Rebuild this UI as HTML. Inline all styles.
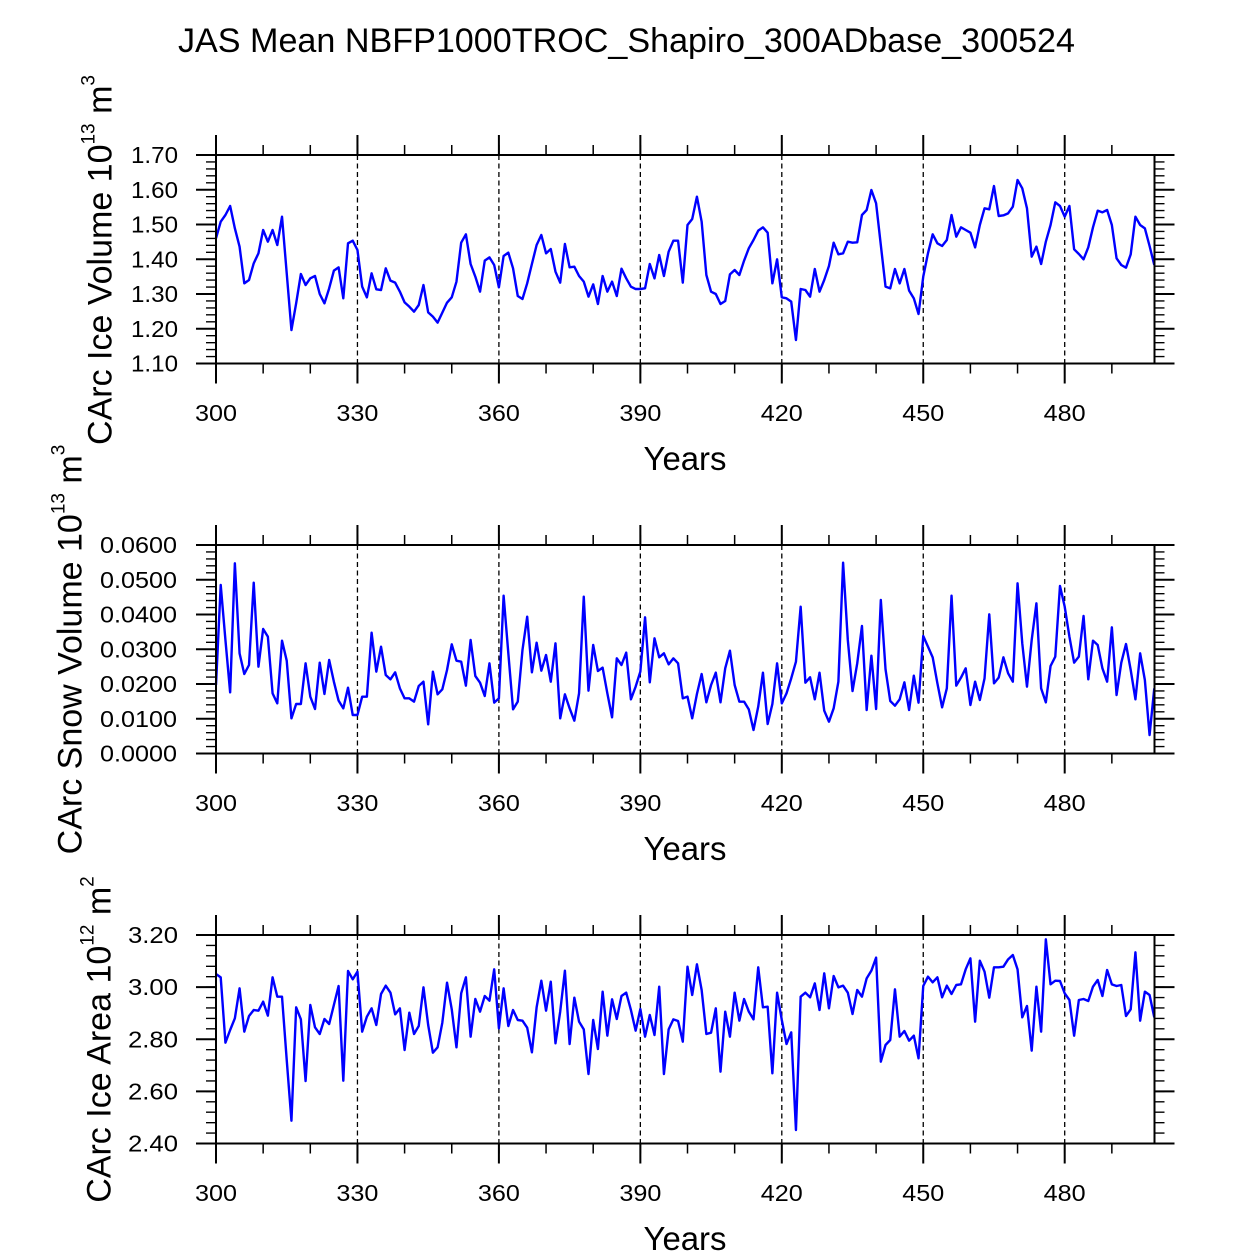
<!DOCTYPE html>
<html>
<head>
<meta charset="utf-8">
<style>
html,body{margin:0;padding:0;background:#fff;}
svg{display:block;}
text{font-family:"Liberation Sans","DejaVu Sans",sans-serif;fill:#000;}
</style>
</head>
<body>
<svg width="1254" height="1254" viewBox="0 0 1254 1254" xmlns="http://www.w3.org/2000/svg">
<rect x="0" y="0" width="1254" height="1254" fill="#fff"/>

<!-- Title -->
<text x="626.5" y="52" font-size="34" text-anchor="middle" textLength="897" lengthAdjust="spacingAndGlyphs">JAS Mean NBFP1000TROC_Shapiro_300ADbase_300524</text>

<defs>
  <g id="xticks">
    <line x1="215.25" y1="150" x2="1156" y2="150" stroke="#000" stroke-width="10" stroke-dasharray="1.5 45.65"/>
    <line x1="215" y1="145" x2="1156" y2="145" stroke="#000" stroke-width="20" stroke-dasharray="2 139.45"/>
    <line x1="215.25" y1="368.5" x2="1156" y2="368.5" stroke="#000" stroke-width="10" stroke-dasharray="1.5 45.65"/>
    <line x1="215" y1="373.5" x2="1156" y2="373.5" stroke="#000" stroke-width="20" stroke-dasharray="2 139.45"/>
    <g stroke="#000" stroke-width="1.3" stroke-dasharray="5 3.5">
      <line x1="357.45" y1="155" x2="357.45" y2="363.5"/>
      <line x1="498.9" y1="155" x2="498.9" y2="363.5"/>
      <line x1="640.35" y1="155" x2="640.35" y2="363.5"/>
      <line x1="781.8" y1="155" x2="781.8" y2="363.5"/>
      <line x1="923.25" y1="155" x2="923.25" y2="363.5"/>
      <line x1="1064.7" y1="155" x2="1064.7" y2="363.5"/>
    </g>
    <g font-size="23" text-anchor="middle">
      <text x="216" y="421" textLength="42" lengthAdjust="spacingAndGlyphs">300</text>
      <text x="357.45" y="421" textLength="42" lengthAdjust="spacingAndGlyphs">330</text>
      <text x="498.9" y="421" textLength="42" lengthAdjust="spacingAndGlyphs">360</text>
      <text x="640.35" y="421" textLength="42" lengthAdjust="spacingAndGlyphs">390</text>
      <text x="781.8" y="421" textLength="42" lengthAdjust="spacingAndGlyphs">420</text>
      <text x="923.25" y="421" textLength="42" lengthAdjust="spacingAndGlyphs">450</text>
      <text x="1064.7" y="421" textLength="42" lengthAdjust="spacingAndGlyphs">480</text>
    </g>
    <text x="685" y="470" font-size="33" text-anchor="middle" textLength="83" lengthAdjust="spacingAndGlyphs">Years</text>
  </g>
</defs>

<!-- ================= PANEL 1 ================= -->
<use href="#xticks"/>
<line x1="211" y1="154.3" x2="211" y2="364.5" stroke="#000" stroke-width="10" stroke-dasharray="1.4 5.55"/>
<line x1="206" y1="154" x2="206" y2="365" stroke="#000" stroke-width="20" stroke-dasharray="2 32.75"/>
<line x1="1159.5" y1="154.3" x2="1159.5" y2="364.5" stroke="#000" stroke-width="10" stroke-dasharray="1.4 5.55"/>
<line x1="1164.5" y1="154" x2="1164.5" y2="365" stroke="#000" stroke-width="20" stroke-dasharray="2 32.75"/>
<g font-size="23" text-anchor="end">
  <text x="178" y="163" textLength="47" lengthAdjust="spacingAndGlyphs">1.70</text>
  <text x="178" y="197.75" textLength="47" lengthAdjust="spacingAndGlyphs">1.60</text>
  <text x="178" y="232.5" textLength="47" lengthAdjust="spacingAndGlyphs">1.50</text>
  <text x="178" y="267.25" textLength="47" lengthAdjust="spacingAndGlyphs">1.40</text>
  <text x="178" y="302" textLength="47" lengthAdjust="spacingAndGlyphs">1.30</text>
  <text x="178" y="336.75" textLength="47" lengthAdjust="spacingAndGlyphs">1.20</text>
  <text x="178" y="371.5" textLength="47" lengthAdjust="spacingAndGlyphs">1.10</text>
</g>
<text transform="translate(111.5,260) rotate(-90)" font-size="34" text-anchor="middle">CArc Ice Volume 10<tspan font-size="19" dy="-17">13</tspan><tspan dy="17"> m</tspan><tspan font-size="19" dy="-17">3</tspan></text>
<polyline fill="none" stroke="#0000ff" stroke-width="2.4" stroke-linejoin="round" vector-effect="non-scaling-stroke" transform="translate(216,140) scale(4.715,0.333333)" points="0,295 1,245 2,225 3,198 4,265 5,320 6,430 7,420 8,370 9,340 10,270 11,305 12,270 13,315 14,230 15,400 16,570 17,490 18,402 19,435 20,415 21,408 22,462 23,490 24,445 25,392 26,382 27,475 28,310 29,302 30,330 31,440 32,472 33,400 34,448 35,450 36,385 37,422 38,428 39,455 40,487 41,500 42,515 43,495 44,435 45,517 46,530 47,548 48,518 49,488 50,472 51,425 52,308 53,283 54,372 55,410 56,455 57,362 58,352 59,375 60,442 61,348 62,338 63,385 64,468 65,477 66,430 67,372 68,315 69,285 70,340 71,327 72,395 73,428 74,312 75,382 76,380 77,408 78,425 79,470 80,433 81,492 82,408 83,455 84,425 85,468 86,386 87,415 88,440 89,447 90,447 91,445 92,372 93,415 94,345 95,408 96,335 97,302 98,302 99,428 100,255 101,237 102,170 103,245 104,405 105,455 106,462 107,492 108,483 109,403 110,390 111,405 112,362 113,325 114,300 115,272 116,262 117,278 118,430 119,358 120,472 121,475 122,485 123,600 124,447 125,450 126,470 127,387 128,455 129,420 130,378 131,308 132,343 133,340 134,305 135,308 136,307 137,225 138,210 139,150 140,190 141,315 142,440 143,445 144,387 145,430 146,387 147,452 148,475 149,522 150,410 151,340 152,283 153,310 154,318 155,300 156,225 157,290 158,262 159,270 160,278 161,322 162,255 163,205 164,208 165,138 166,228 167,226 168,220 169,200 170,120 171,145 172,205 173,350 174,320 175,372 176,305 177,255 178,187 179,198 180,230 181,198 182,328 183,342 184,358 185,322 186,262 187,212 188,217 189,210 190,255 191,355 192,375 193,383 194,343 195,230 196,255 197,265 198,318 199,375"/>
<rect x="216" y="155" width="938.5" height="208.5" fill="none" stroke="#000" stroke-width="2"/>

<!-- ================= PANEL 2 ================= -->
<g transform="translate(0,390)">
<use href="#xticks"/>
<line x1="211" y1="154.3" x2="211" y2="364.5" stroke="#000" stroke-width="10" stroke-dasharray="1.4 5.55"/>
<line x1="206" y1="154" x2="206" y2="365" stroke="#000" stroke-width="20" stroke-dasharray="2 32.75"/>
<line x1="1159.5" y1="154.3" x2="1159.5" y2="364.5" stroke="#000" stroke-width="10" stroke-dasharray="1.4 5.55"/>
<line x1="1164.5" y1="154" x2="1164.5" y2="365" stroke="#000" stroke-width="20" stroke-dasharray="2 32.75"/>
<g font-size="23" text-anchor="end">
  <text x="177" y="163" textLength="77" lengthAdjust="spacingAndGlyphs">0.0600</text>
  <text x="177" y="197.75" textLength="77" lengthAdjust="spacingAndGlyphs">0.0500</text>
  <text x="177" y="232.5" textLength="77" lengthAdjust="spacingAndGlyphs">0.0400</text>
  <text x="177" y="267.25" textLength="77" lengthAdjust="spacingAndGlyphs">0.0300</text>
  <text x="177" y="302" textLength="77" lengthAdjust="spacingAndGlyphs">0.0200</text>
  <text x="177" y="336.75" textLength="77" lengthAdjust="spacingAndGlyphs">0.0100</text>
  <text x="177" y="371.5" textLength="77" lengthAdjust="spacingAndGlyphs">0.0000</text>
</g>
<text transform="translate(81.5,259.5) rotate(-90)" font-size="34" text-anchor="middle">CArc Snow Volume 10<tspan font-size="19" dy="-17">13</tspan><tspan dy="17"> m</tspan><tspan font-size="19" dy="-17">3</tspan></text>
</g>
<polyline fill="none" stroke="#0000ff" stroke-width="2.4" stroke-linejoin="round" vector-effect="non-scaling-stroke" transform="translate(216,530) scale(4.715,0.333333)" points="0,465 1,165 2,330 3,487 4,100 5,370 6,432 7,405 8,158 9,410 10,297 11,320 12,490 13,520 14,332 15,392 16,565 17,522 18,522 19,400 20,500 21,537 22,398 23,492 24,390 25,455 26,512 27,535 28,473 29,555 30,555 31,500 32,500 33,308 34,425 35,350 36,435 37,448 38,427 39,475 40,505 41,505 42,515 43,468 44,455 45,583 46,425 47,493 48,478 49,420 50,343 51,392 52,395 53,467 54,330 55,438 56,458 57,498 58,400 59,518 60,505 61,197 62,370 63,538 64,515 65,360 66,260 67,427 68,338 69,422 70,375 71,455 72,340 73,565 74,493 75,535 76,572 77,490 78,200 79,482 80,345 81,423 82,413 83,490 84,562 85,385 86,405 87,368 88,508 89,470 90,425 91,262 92,457 93,325 94,382 95,370 96,403 97,385 98,400 99,505 100,500 101,565 102,492 103,432 104,517 105,465 106,428 107,517 108,415 109,362 110,465 111,515 112,515 113,538 114,600 115,530 116,428 117,582 118,522 119,400 120,520 121,490 122,445 123,395 124,230 125,458 126,442 127,508 128,428 129,542 130,575 131,535 132,455 133,98 134,330 135,483 136,400 137,288 138,540 139,377 140,537 141,210 142,418 143,513 144,527 145,508 146,457 147,540 148,437 149,518 150,318 151,350 152,382 153,460 154,532 155,475 156,197 157,467 158,443 159,415 160,525 161,455 162,510 163,445 164,253 165,460 166,443 167,382 168,430 169,455 170,160 171,340 172,470 173,330 174,220 175,475 176,517 177,408 178,380 179,168 180,230 181,320 182,398 183,380 184,258 185,448 186,332 187,345 188,415 189,455 190,292 191,495 192,398 193,342 194,420 195,508 196,370 197,450 198,615 199,475"/>
<rect x="216" y="545" width="938.5" height="208.5" fill="none" stroke="#000" stroke-width="2"/>

<!-- ================= PANEL 3 ================= -->
<g transform="translate(0,780)">
<use href="#xticks"/>
<line x1="211" y1="154.3" x2="211" y2="364.5" stroke="#000" stroke-width="10" stroke-dasharray="1.4 9.025"/>
<line x1="206" y1="154" x2="206" y2="365" stroke="#000" stroke-width="20" stroke-dasharray="2 50.125"/>
<line x1="1159.5" y1="154.3" x2="1159.5" y2="364.5" stroke="#000" stroke-width="10" stroke-dasharray="1.4 9.025"/>
<line x1="1164.5" y1="154" x2="1164.5" y2="365" stroke="#000" stroke-width="20" stroke-dasharray="2 50.125"/>
<g font-size="23" text-anchor="end">
  <text x="178" y="163" textLength="50" lengthAdjust="spacingAndGlyphs">3.20</text>
  <text x="178" y="215.125" textLength="50" lengthAdjust="spacingAndGlyphs">3.00</text>
  <text x="178" y="267.25" textLength="50" lengthAdjust="spacingAndGlyphs">2.80</text>
  <text x="178" y="319.375" textLength="50" lengthAdjust="spacingAndGlyphs">2.60</text>
  <text x="178" y="371.5" textLength="50" lengthAdjust="spacingAndGlyphs">2.40</text>
</g>
<text transform="translate(110.5,259.5) rotate(-90)" font-size="34" text-anchor="middle">CArc Ice Area 10<tspan font-size="19" dy="-17">12</tspan><tspan dy="17"> m</tspan><tspan font-size="19" dy="-17">2</tspan></text>
</g>
<polyline fill="none" stroke="#0000ff" stroke-width="2.4" stroke-linejoin="round" vector-effect="non-scaling-stroke" transform="translate(216,920) scale(4.715,0.333333)" points="0,162 1,172 2,368 3,330 4,295 5,205 6,335 7,288 8,270 9,272 10,245 11,287 12,172 13,230 14,230 15,420 16,602 17,262 18,298 19,483 20,255 21,322 22,342 23,297 24,312 25,255 26,198 27,482 28,153 29,178 30,155 31,335 32,290 33,265 34,315 35,222 36,197 37,218 38,283 39,265 40,390 41,278 42,342 43,318 44,202 45,315 46,398 47,382 48,308 49,188 50,268 51,382 52,220 53,172 54,350 55,237 56,275 57,228 58,242 59,148 60,325 61,205 62,318 63,270 64,300 65,302 66,323 67,397 68,262 69,182 70,272 71,185 72,370 73,275 74,152 75,372 76,233 77,305 78,328 79,462 80,300 81,387 82,215 83,347 84,238 85,297 86,228 87,218 88,270 89,332 90,267 91,350 92,285 93,345 94,200 95,462 96,328 97,298 98,303 99,365 100,140 101,225 102,133 103,210 104,342 105,338 106,265 107,455 108,275 109,350 110,218 111,302 112,237 113,275 114,298 115,142 116,262 117,260 118,460 119,218 120,300 121,372 122,337 123,630 124,230 125,218 126,232 127,190 128,270 129,160 130,265 131,168 132,202 133,197 134,218 135,282 136,210 137,230 138,175 139,152 140,113 141,425 142,375 143,360 144,208 145,350 146,333 147,362 148,347 149,415 150,198 151,170 152,187 153,172 154,232 155,197 156,222 157,195 158,193 159,148 160,115 161,305 162,122 163,155 164,233 165,142 166,142 167,140 168,118 169,105 170,148 171,292 172,258 173,392 174,200 175,335 176,58 177,193 178,182 179,183 180,220 181,240 182,347 183,240 184,237 185,243 186,200 187,180 188,228 189,150 190,193 191,198 192,195 193,288 194,268 195,97 196,302 197,215 198,225 199,292"/>
<rect x="216" y="935" width="938.5" height="208.5" fill="none" stroke="#000" stroke-width="2"/>

</svg>
</body>
</html>
